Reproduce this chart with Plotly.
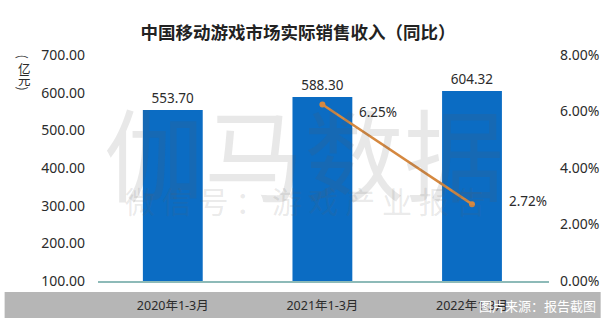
import plotly.graph_objects as go

# Data
periods = ["2020年1-3月", "2021年1-3月", "2022年1-3月"]
revenue = [553.70, 588.30, 604.32]          # 亿元
yoy_periods = ["2021年1-3月", "2022年1-3月"]
yoy_growth = [6.25, 2.72]                    # %

left_ticks = [100, 200, 300, 400, 500, 600, 700]
right_ticks = [0, 2, 4, 6, 8]

W, H = 611, 327
ML, MR, MT, MB = 98, 59, 55, 46
PW, PH = W - ML - MR, H - MT - MB

BLUE = "#0b6cc3"
ORANGE = "#d5883f"
TXT = "#2b2b2b"
BASE = "Noto Sans, Noto Sans CJK SC, sans-serif"
CJK = "Noto Sans CJK SC, sans-serif"


def px_x(px):
    return (px - ML) / PW


def px_y(py):
    return (H - MB - py) / PH


fig = go.Figure()

fig.add_trace(go.Bar(
    x=periods, y=revenue,
    marker=dict(color=BLUE, line=dict(width=0)),
    text=[f"{v:.2f}" for v in revenue],
    textposition="outside",
    textfont=dict(family=BASE, size=13.5, color=TXT),
    cliponaxis=False,
    showlegend=False,
))

fig.add_trace(go.Scatter(
    x=yoy_periods, y=yoy_growth, yaxis="y2",
    mode="lines+markers",
    line=dict(color=ORANGE, width=2.5),
    marker=dict(color=ORANGE, size=6),
    showlegend=False,
))

annotations = []

# growth labels to the right of each point
for p, v, ys in zip(yoy_periods, yoy_growth, [-8, 3]):
    annotations.append(dict(
        x=p, y=v, xref="x", yref="y2", text=f"{v:.2f}%",
        showarrow=False, xanchor="left", xshift=35, yshift=ys,
        font=dict(family=BASE, size=13.5, color=TXT),
    ))

# watermark
annotations.append(dict(
    x=px_x(305), y=px_y(150), xref="paper", yref="paper",
    text="伽马数据", showarrow=False,
    font=dict(family=CJK, size=100, color="rgba(95,95,95,0.14)"),
))
annotations.append(dict(
    x=px_x(306), y=px_y(224), xref="paper", yref="paper",
    text="微 信 号 ： 游 戏 产 业 报 告", showarrow=False,
    font=dict(family=CJK, size=30, color="rgba(95,95,95,0.14)"),
))

# unit label, stacked vertically with turned brackets
for ch, py, ang in [("(", 57, 90), ("亿", 68, 0), ("元", 80, 0), (")", 89, 90)]:
    annotations.append(dict(
        x=px_x(24), y=px_y(py), xref="paper", yref="paper",
        text=ch, showarrow=False, xanchor="center", yanchor="middle",
        textangle=ang,
        font=dict(family=CJK, size=12.5, color=TXT),
    ))

# source note on the footer band
annotations.append(dict(
    x=px_x(601), y=px_y(305), xref="paper", yref="paper",
    text="图片来源：报告截图", showarrow=False, xanchor="right", yanchor="middle",
    font=dict(family=CJK, size=13, color="white"),
))

shapes = [dict(
    type="rect", xref="paper", yref="paper", layer="below",
    x0=px_x(4), x1=px_x(604), y0=px_y(318), y1=px_y(292),
    fillcolor="#b6b6b6", line=dict(width=0),
)]

fig.update_layout(
    width=W, height=H,
    margin=dict(l=ML, r=MR, t=MT, b=MB),
    paper_bgcolor="white", plot_bgcolor="white",
    bargap=0.6,
    title=dict(
        text="<b>中国移动游戏市场实际销售收入（同比）</b>",
        x=298 / W, xref="container", xanchor="center",
        y=1 - 33 / H, yref="container", yanchor="middle",
        font=dict(family=CJK, size=17.5, color="#222222"),
    ),
    xaxis=dict(
        showgrid=False, zeroline=False,
        showline=True, linecolor="#8dbab8", linewidth=1.5,
        ticks="", ticklabelstandoff=12,
        tickfont=dict(family=BASE, size=12.5, color=TXT),
    ),
    yaxis=dict(
        range=[100, 700], tickvals=left_ticks,
        ticktext=[f"{v:.2f}" for v in left_ticks],
        showgrid=False, zeroline=False, showline=False,
        ticks="", ticklabelstandoff=12,
        tickfont=dict(family=BASE, size=14, color=TXT),
    ),
    yaxis2=dict(
        range=[0, 8], tickvals=right_ticks,
        ticktext=[f"{v:.2f}%" for v in right_ticks],
        overlaying="y", side="right",
        showgrid=False, zeroline=False, showline=False,
        ticks="", ticklabelstandoff=10,
        tickfont=dict(family=BASE, size=14, color=TXT),
    ),
    annotations=annotations,
    shapes=shapes,
)

fig.write_html("out.html")
